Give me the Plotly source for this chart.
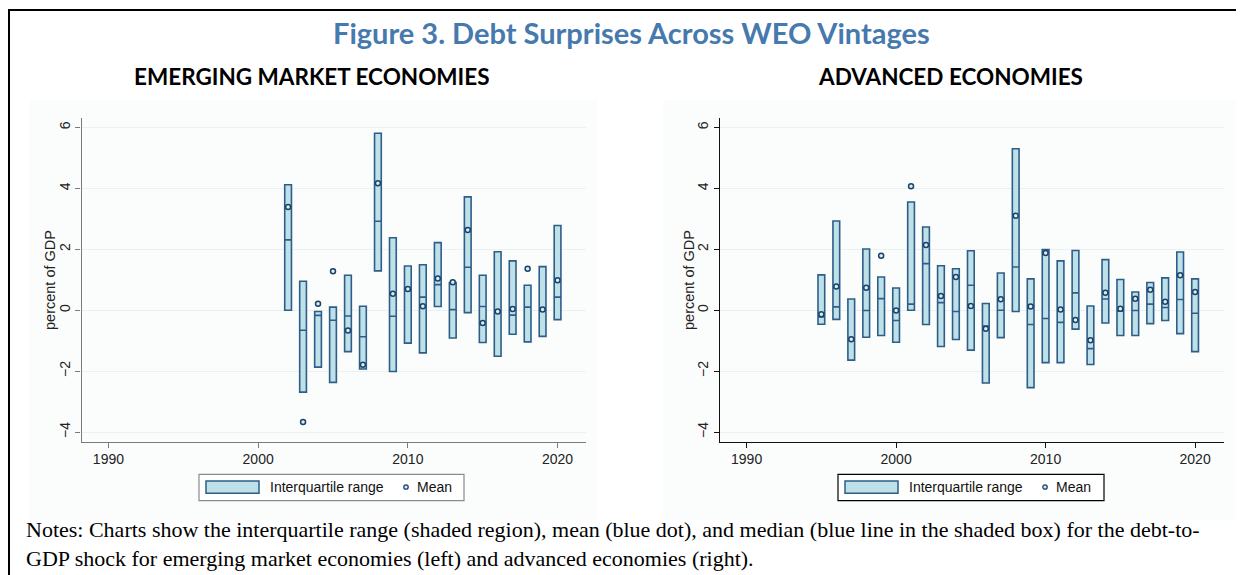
import plotly.graph_objects as go

# ---------------- data ----------------
em_years = list(range(2002, 2021))
em_q3 = [4.12, 0.95, -0.04, 0.10, 1.15, 0.13, 5.81, 2.38, 1.45, 1.49, 2.22, 0.91, 3.72, 1.15, 1.92, 1.62, 0.82, 1.43, 2.78]
em_q1 = [0.0, -2.69, -1.87, -2.37, -1.36, -1.93, 1.29, -2.01, -1.08, -1.40, 0.12, -0.91, -0.08, -1.06, -1.51, -0.79, -1.04, -0.86, -0.31]
em_median = [2.31, -0.66, -0.17, -0.33, -0.19, -0.87, 2.92, -0.20, 0.64, 0.43, 0.84, 0.02, 1.41, 0.12, -0.04, -0.16, 0.10, 0.02, 0.43]
em_mean = [3.39, -3.67, 0.21, 1.28, -0.67, -1.79, 4.17, 0.54, 0.70, 0.13, 1.04, 0.92, 2.63, -0.42, -0.04, 0.04, 1.36, 0.02, 0.98]

ae_years = list(range(1995, 2021))
ae_q3 = [1.16, 2.93, 0.37, 2.01, 1.09, 0.73, 3.55, 2.73, 1.46, 1.36, 1.95, 0.22, 1.22, 5.30, 1.03, 1.99, 1.62, 1.96, 0.14, 1.66, 1.01, 0.60, 0.91, 1.06, 1.91, 1.03]
ae_q1 = [-0.46, -0.30, -1.64, -0.89, -0.83, -1.05, 0.0, -0.47, -1.19, -0.96, -1.31, -2.39, -0.90, -0.04, -2.54, -1.72, -1.72, -0.62, -1.78, -0.42, -0.83, -0.83, -0.44, -0.34, -0.77, -1.36]
ae_median = [-0.22, 0.11, -0.98, -0.01, 0.38, -0.34, 0.20, 1.53, 0.25, -0.04, 0.82, -0.52, 0.0, 1.42, -0.47, -0.27, -0.40, 0.57, -1.26, 0.37, -0.03, -0.01, 0.20, 0.09, 0.35, -0.10]
ae_mean = [-0.13, 0.78, -0.95, 0.74, 1.79, -0.01, 4.07, 2.14, 0.47, 1.09, 0.14, -0.61, 0.36, 3.10, 0.12, 1.88, 0.02, -0.32, -0.99, 0.57, 0.05, 0.38, 0.67, 0.28, 1.15, 0.60]

x_ticks = [1990, 2000, 2010, 2020]
y_ticks = [-4, -2, 0, 2, 4, 6]

title_text = "Figure 3. Debt Surprises Across WEO Vintages"
panel_titles = ["EMERGING MARKET ECONOMIES", "ADVANCED ECONOMIES"]
y_title = "percent of GDP"
legend_labels = ["Interquartile range", "Mean"]
notes_lines = [
    "Notes: Charts show the interquartile range (shaded region), mean (blue dot), and median (blue line in the shaded box) for the debt-to-",
    "GDP shock for emerging market economies (left) and advanced economies (right).",
]

# ---------------- styling ----------------
OFF = 8  # page body margin
W, H = 1244 - OFF, 575 - OFF
FILL = "#bde0e9"
EDGE = "#2e5d87"
MEAN_EDGE = "#1c426b"
GRID = "#e9f1f2"
SANS = "Liberation Sans, Arial, sans-serif"


def X(px):
    return (px - OFF) / W


def Y(py):
    return 1 - (py - OFF) / H


fig = go.Figure()

panels = [
    dict(years=em_years, q1=em_q1, q3=em_q3, med=em_median, mean=em_mean,
         xa="x", ya="y", dom=(81.5, 586), axis_col="#7a7a7a", legend=(199, 464)),
    dict(years=ae_years, q1=ae_q1, q3=ae_q3, med=ae_median, mean=ae_mean,
         xa="x2", ya="y2", dom=(719.7, 1223.5), axis_col="#111111", legend=(838, 1104)),
]

for p in panels:
    fig.add_trace(go.Box(
        x=p["years"], q1=p["q1"], q3=p["q3"], median=p["med"],
        lowerfence=p["q1"], upperfence=p["q3"],
        width=0.45, whiskerwidth=0, boxpoints=False,
        fillcolor=FILL, line=dict(color=EDGE, width=1.6),
        xaxis=p["xa"], yaxis=p["ya"], showlegend=False, hoverinfo="skip",
    ))
    fig.add_trace(go.Scatter(
        x=p["years"], y=p["mean"], mode="markers",
        marker=dict(symbol="circle", size=5, color="#d8ecf2",
                    line=dict(color=MEAN_EDGE, width=1.5)),
        xaxis=p["xa"], yaxis=p["ya"], showlegend=False, hoverinfo="skip",
    ))

ydom = (Y(441.5), Y(118.3))
axis_common = dict(showgrid=False, zeroline=False, showline=True, linewidth=1.2,
                   ticks="outside", ticklen=5, tickwidth=1,
                   tickfont=dict(family=SANS, size=14, color="#222"))

layout_axes = {}
for i, p in enumerate(panels):
    sfx = "" if i == 0 else "2"
    layout_axes["xaxis" + sfx] = dict(
        axis_common, domain=[X(p["dom"][0]), X(p["dom"][1])], range=[1988.2, 2021.9],
        tickvals=x_ticks, linecolor=p["axis_col"], tickcolor=p["axis_col"],
        anchor="y" + sfx)
    layout_axes["yaxis" + sfx] = dict(
        axis_common, domain=list(ydom), range=[-4.31, 6.3], tickvals=y_ticks,
        tickangle=-90, linecolor=p["axis_col"], tickcolor=p["axis_col"],
        showgrid=True, gridcolor=GRID, gridwidth=1.2,
        anchor="x" + sfx)

shapes = []
annotations = []

# faint panel background regions
for (x0, x1) in [(30, 598), (663, 1250)]:
    shapes.append(dict(type="rect", xref="paper", yref="paper", layer="below",
                       x0=X(x0), x1=X(x1), y0=Y(520), y1=Y(100),
                       fillcolor="#fbfcfc", line=dict(width=0)))

# outer border
shapes.append(dict(type="rect", xref="paper", yref="paper",
                   x0=X(9), x1=X(1300), y0=Y(620), y1=Y(10),
                   line=dict(color="#000", width=2), fillcolor="rgba(0,0,0,0)"))

# main title and panel titles
annotations.append(dict(text="<b>" + title_text + "</b>", xref="paper", yref="paper",
                        x=X(631), y=Y(32), showarrow=False, xanchor="center", yanchor="middle",
                        font=dict(family="Lato, Open Sans, sans-serif", size=29, color="#4679ad")))
for t, cx in zip(panel_titles, [311.5, 950.5]):
    annotations.append(dict(text="<b>" + t + "</b>", xref="paper", yref="paper",
                            x=X(cx), y=Y(77), showarrow=False, xanchor="center", yanchor="middle",
                            font=dict(family="Lato, Open Sans, sans-serif", size=22.5, color="#000")))

# y axis titles
for cx in [50, 689]:
    annotations.append(dict(text=y_title, xref="paper", yref="paper", textangle=-90,
                            x=X(cx), y=Y(280), showarrow=False, xanchor="center", yanchor="middle",
                            font=dict(family=SANS, size=14.5, color="#222")))

# legends (drawn)
for p in panels:
    lx0, lx1 = p["legend"]
    col = "#8a8a8a" if p is panels[0] else "#000"
    shapes.append(dict(type="rect", xref="paper", yref="paper",
                       x0=X(lx0), x1=X(lx1), y0=Y(500.7), y1=Y(474.3),
                       line=dict(color=col, width=1.2), fillcolor="#ffffff"))
    sx0 = lx0 + 7
    shapes.append(dict(type="rect", xref="paper", yref="paper",
                       x0=X(sx0), x1=X(sx0 + 53), y0=Y(493.3), y1=Y(481),
                       line=dict(color=EDGE, width=1.5), fillcolor=FILL))
    annotations.append(dict(text=legend_labels[0], xref="paper", yref="paper",
                            x=X(sx0 + 62), y=Y(487), showarrow=False, xanchor="left", yanchor="middle",
                            font=dict(family=SANS, size=14, color="#111")))
    mx = lx0 + 207
    shapes.append(dict(type="circle", xref="paper", yref="paper",
                       x0=X(mx - 2.2), x1=X(mx + 2.2), y0=Y(489.2), y1=Y(484.8),
                       line=dict(color=MEAN_EDGE, width=1.3), fillcolor="#d8ecf2"))
    annotations.append(dict(text=legend_labels[1], xref="paper", yref="paper",
                            x=X(mx + 8.5), y=Y(487), showarrow=False, xanchor="left", yanchor="middle",
                            font=dict(family=SANS, size=14, color="#111")))

# notes (one block, two lines)
annotations.append(dict(text="<br>".join(notes_lines), xref="paper", yref="paper",
                        x=X(24), y=Y(573), showarrow=False, xanchor="left", yanchor="bottom",
                        align="left",
                        font=dict(family="Liberation Serif, Times New Roman, serif", size=22, color="#000")))

fig.update_layout(
    width=W, height=H, margin=dict(l=0, r=0, t=0, b=0),
    paper_bgcolor="#ffffff", plot_bgcolor="rgba(0,0,0,0)",
    showlegend=False, shapes=shapes, annotations=annotations,
    **layout_axes,
)

fig.write_html("out.html")
